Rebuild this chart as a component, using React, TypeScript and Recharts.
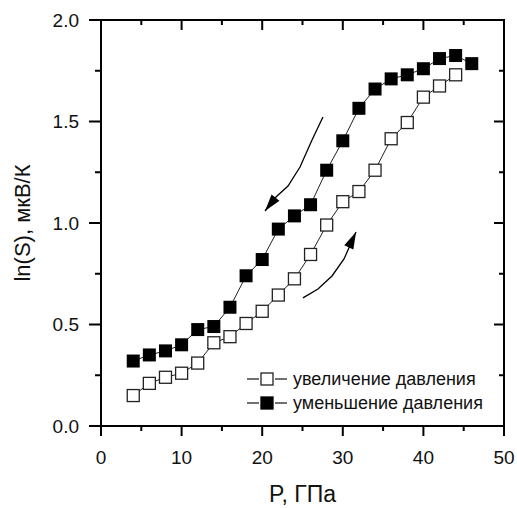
import { ScatterChart, Scatter, XAxis, YAxis } from "recharts"

const pressure = [4, 6, 8, 10, 12, 14, 16, 18, 20, 22, 24, 26, 28, 30, 32, 34, 36, 38, 40, 42, 44, 46]
const increasing = [0.15, 0.21, 0.24, 0.26, 0.31, 0.41, 0.44, 0.505, 0.565, 0.645, 0.725, 0.845, 0.99, 1.105, 1.155, 1.26, 1.415, 1.495, 1.62, 1.675, 1.73]
const decreasing = [0.32, 0.35, 0.37, 0.4, 0.475, 0.49, 0.585, 0.74, 0.82, 0.97, 1.035, 1.09, 1.26, 1.405, 1.565, 1.66, 1.71, 1.73, 1.76, 1.81, 1.825, 1.785]

// hand-drawn arrows in data units
const arrowDownP = [27.54, 26.18, 24.69, 23.2, 21.71, 20.35]
const arrowDownS = [1.522, 1.409, 1.276, 1.182, 1.128, 1.059]
const arrowUpP = [25.06, 26.92, 28.66, 30.15, 31.64]
const arrowUpS = [0.631, 0.675, 0.739, 0.823, 0.956]

const xDomain = [0, 50]
const yDomain = [0, 2]
const xTicks = [0, 5, 10, 15, 20, 25, 30, 35, 40, 45, 50]
const yTicks = [0, 0.25, 0.5, 0.75, 1, 1.25, 1.5, 1.75, 2]

const legendLabels = ["увеличение давления", "уменьшение давления"]

const incData = increasing.map((s, i) => ({ p: pressure[i], s }))
const decData = decreasing.map((s, i) => ({ p: pressure[i], s }))
const downArrow = arrowDownP.map((p, i) => ({ p, s: arrowDownS[i] }))
const upArrow = arrowUpP.map((p, i) => ({ p, s: arrowUpS[i] }))
const downTip = downArrow.slice(-1)
const upTip = upArrow.slice(-1)

// layout
const W = 517
const H = 508
const margin = { top: 20, right: 13, bottom: 0, left: 0 }
const xAxisH = 82
const yAxisW = 101
const plotL = margin.left + yAxisW
const plotT = margin.top
const plotW = W - margin.left - margin.right - yAxisW
const plotH = H - margin.top - margin.bottom - xAxisH

const font = "'Liberation Sans', Arial, sans-serif"
const isMajorX = (v: number) => v % 10 === 0
const isMajorY = (v: number) => Math.abs((v * 2) % 1) < 1e-6

const BottomTick = ({ x, y, payload }: any) => {
  const major = isMajorX(payload.value)
  return (
    <g>
      <line x1={x} x2={x} y1={y} y2={y + (major ? 10 : 5)} stroke="#000" strokeWidth={2} />
      {major && (
        <text x={x} y={y + 38} textAnchor="middle" fontSize={19} fontFamily={font} fill="#111">
          {payload.value}
        </text>
      )}
    </g>
  )
}

const LeftTick = ({ x, y, payload }: any) => {
  const major = isMajorY(payload.value)
  return (
    <g>
      <line x1={x} x2={x - (major ? 12 : 6)} y1={y} y2={y} stroke="#000" strokeWidth={2} />
      {major && (
        <text x={x - 22} y={y} dy="0.35em" textAnchor="end" fontSize={19} fontFamily={font} fill="#111">
          {payload.value.toFixed(1)}
        </text>
      )}
    </g>
  )
}

const OpenSquare = ({ cx, cy }: any) => (
  <rect x={cx - 6} y={cy - 6} width={12} height={12} fill="#fff" stroke="#222" strokeWidth={1.3} />
)

const FilledSquare = ({ cx, cy }: any) => (
  <rect x={cx - 6.5} y={cy - 6.5} width={13} height={13} fill="#000" />
)

const NoDot = () => <g />

const ArrowHead = ({ cx, cy, angle }: any) => (
  <polygon points="0,0 -17,-5 -17,5" fill="#000" transform={`translate(${cx},${cy}) rotate(${angle})`} />
)

// top and right sides of the box with inward mirrored ticks
const Frame = () => {
  const sx = (v: number) => plotL + ((v - xDomain[0]) / (xDomain[1] - xDomain[0])) * plotW
  const sy = (v: number) => plotT + plotH - ((v - yDomain[0]) / (yDomain[1] - yDomain[0])) * plotH
  const right = plotL + plotW
  return (
    <svg
      width={W}
      height={H}
      style={{ position: "absolute", left: 0, top: 0, pointerEvents: "none" }}
    >
      <polyline
        points={`${plotL},${plotT} ${right},${plotT} ${right},${plotT + plotH}`}
        fill="none"
        stroke="#000"
        strokeWidth={2}
      />
      {xTicks.map(v => (
        <line
          key={`t${v}`}
          x1={sx(v)}
          x2={sx(v)}
          y1={plotT}
          y2={plotT + (isMajorX(v) ? 10 : 5)}
          stroke="#000"
          strokeWidth={2}
        />
      ))}
      {yTicks.map(v => (
        <line
          key={`r${v}`}
          x1={right}
          x2={right - (isMajorY(v) ? 10 : 5)}
          y1={sy(v)}
          y2={sy(v)}
          stroke="#000"
          strokeWidth={2}
        />
      ))}
    </svg>
  )
}

const LegendRow = ({ filled, label }: { filled: boolean; label: string }) => (
  <div style={{ display: "flex", alignItems: "center", height: 24 }}>
    <svg width={46} height={16}>
      <line x1={2} x2={14} y1={8} y2={8} stroke="#222" strokeWidth={1.3} />
      <rect
        x={16}
        y={2}
        width={12}
        height={12}
        fill={filled ? "#000" : "#fff"}
        stroke={filled ? "#000" : "#222"}
        strokeWidth={1.3}
      />
      <line x1={30} x2={42} y1={8} y2={8} stroke="#222" strokeWidth={1.3} />
    </svg>
    <span style={{ fontSize: 18, color: "#111", marginLeft: 2 }}>{label}</span>
  </div>
)

export default function App() {
  return (
    <div style={{ position: "absolute", left: 0, top: 0, width: W, height: H, background: "#fff", fontFamily: font }}>
      <ScatterChart width={W} height={H} margin={margin}>
        <XAxis
          type="number"
          dataKey="p"
          domain={xDomain}
          ticks={xTicks}
          interval={0}
          height={xAxisH}
          tickSize={0}
          tickMargin={0}
          tick={BottomTick}
          axisLine={{ stroke: "#000", strokeWidth: 2 }}
          label={{ value: "P, ГПа", position: "insideBottom", offset: 6, fontSize: 23, fill: "#111", fontFamily: font }}
        />
        <YAxis
          type="number"
          dataKey="s"
          domain={yDomain}
          ticks={yTicks}
          interval={0}
          width={yAxisW}
          tickSize={0}
          tickMargin={0}
          tick={LeftTick}
          axisLine={{ stroke: "#000", strokeWidth: 2 }}
          label={{
            value: "ln(S), мкВ/К",
            angle: -90,
            position: "insideLeft",
            offset: 22,
            fontSize: 22,
            fill: "#111",
            fontFamily: font,
            style: { textAnchor: "middle" }
          }}
        />

        <Scatter data={downArrow} line={{ stroke: "#000", strokeWidth: 1.3 }} shape={NoDot} isAnimationActive={false} />
        <Scatter data={downTip} shape={(props: any) => <ArrowHead {...props} angle={128} />} isAnimationActive={false} />
        <Scatter data={upArrow} line={{ stroke: "#000", strokeWidth: 1.3 }} shape={NoDot} isAnimationActive={false} />
        <Scatter data={upTip} shape={(props: any) => <ArrowHead {...props} angle={-65} />} isAnimationActive={false} />

        <Scatter
          data={decData}
          line={{ stroke: "#222", strokeWidth: 1 }}
          shape={FilledSquare}
          isAnimationActive={false}
        />
        <Scatter
          data={incData}
          line={{ stroke: "#222", strokeWidth: 1 }}
          shape={OpenSquare}
          isAnimationActive={false}
        />
      </ScatterChart>

      <Frame />

      <div style={{ position: "absolute", left: 245, top: 367 }}>
        <LegendRow filled={false} label={legendLabels[0]} />
        <LegendRow filled={true} label={legendLabels[1]} />
      </div>
    </div>
  )
}
